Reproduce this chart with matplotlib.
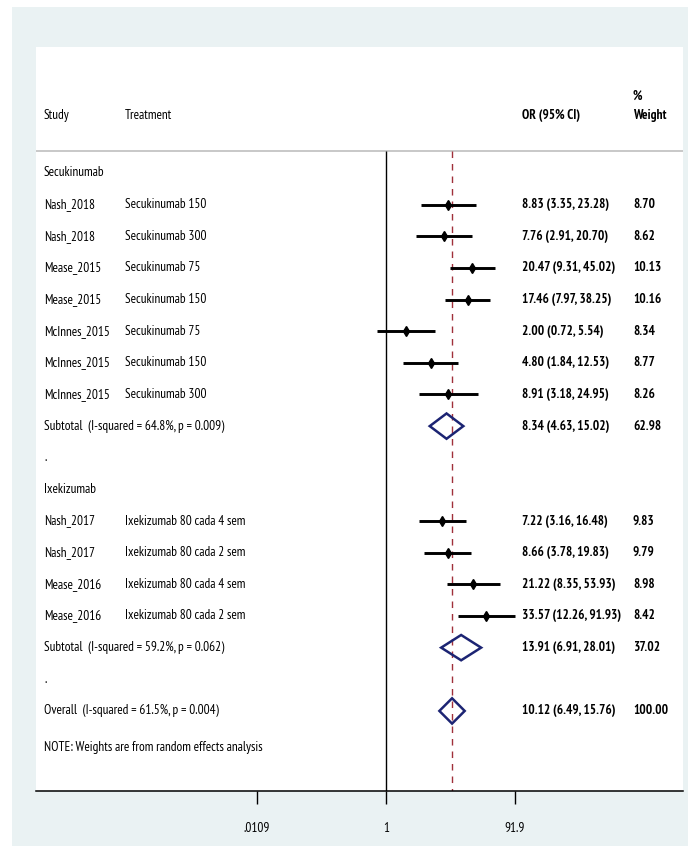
"""
Forest plot of odds ratios for secukinumab and ixekizumab trials,
random-effects subtotals and overall pooled estimate.
"""
import matplotlib.pyplot as plt
import numpy as np
from matplotlib.patches import Rectangle, Polygon
from matplotlib.ticker import FixedLocator, NullLocator

plt.rcParams['font.family'] = ['PT Sans Narrow', 'Liberation Sans', 'DejaVu Sans']

# Secukinumab trials
sec_study = ["Nash_2018", "Nash_2018", "Mease_2015", "Mease_2015",
             "McInnes_2015", "McInnes_2015", "McInnes_2015"]
sec_treat = ["Secukinumab 150", "Secukinumab 300", "Secukinumab 75", "Secukinumab 150",
             "Secukinumab 75", "Secukinumab 150", "Secukinumab 300"]
sec_or = [8.83, 7.76, 20.47, 17.46, 2.00, 4.80, 8.91]
sec_lo = [3.35, 2.91, 9.31, 7.97, 0.72, 1.84, 3.18]
sec_hi = [23.28, 20.70, 45.02, 38.25, 5.54, 12.53, 24.95]
sec_wt = [8.70, 8.62, 10.13, 10.16, 8.34, 8.77, 8.26]
sec_sub = [8.34, 4.63, 15.02, 62.98]
sec_sub_label = "Subtotal  (I-squared = 64.8%, p = 0.009)"

# Ixekizumab trials
ixe_study = ["Nash_2017", "Nash_2017", "Mease_2016", "Mease_2016"]
ixe_treat = ["Ixekizumab 80 cada 4 sem", "Ixekizumab 80 cada 2 sem",
             "Ixekizumab 80 cada 4 sem", "Ixekizumab 80 cada 2 sem"]
ixe_or = [7.22, 8.66, 21.22, 33.57]
ixe_lo = [3.16, 3.78, 8.35, 12.26]
ixe_hi = [16.48, 19.83, 53.93, 91.93]
ixe_wt = [9.83, 9.79, 8.98, 8.42]
ixe_sub = [13.91, 6.91, 28.01, 37.02]
ixe_sub_label = "Subtotal  (I-squared = 59.2%, p = 0.062)"

overall = [10.12, 6.49, 15.76, 100.00]
overall_label = "Overall  (I-squared = 61.5%, p = 0.004)"

tick_vals = [0.0109, 1, 91.9]
tick_labels = [".0109", "1", "91.9"]

W, H = 688, 846
fig = plt.figure(figsize=(W / 100, H / 100), dpi=100, facecolor='white')

# graph region background
fig.patches.append(Rectangle((12 / W, 0), 1 - 12 / W, 1 - 7 / H,
                             transform=fig.transFigure, facecolor='#EAF2F3',
                             edgecolor='none', zorder=-10))

ax = fig.add_axes([36 / W, 1 - 791 / H, (683 - 36) / W, (791 - 47) / H])
ax.set_zorder(1)
ax.set_facecolor('white')
ax.set_xscale('log')
ax.set_xlim(np.exp(-12.263), np.exp(10.406))
ax.set_ylim(19.53, -3.98)

fs = 9.5
for side in ['top', 'left', 'right']:
    ax.spines[side].set_visible(False)
ax.spines['bottom'].set_linewidth(1.1)
ax.yaxis.set_visible(False)
ax.xaxis.set_major_locator(FixedLocator(tick_vals))
ax.xaxis.set_minor_locator(NullLocator())
ax.set_xticklabels(tick_labels, fontsize=fs)
ax.tick_params(axis='x', direction='out', length=9, width=1.0, pad=13)

tr = ax.get_yaxis_transform()  # x in axes fraction, y in data
col_study, col_treat, col_or, col_wt = 0.0124, 0.1376, 0.751, 0.9227
line_y = -0.70
diamond_col = '#1C2473'

# headers
ax.text(col_wt, -2.43, "%", transform=tr, fontsize=fs, fontweight='bold', va='center')
ax.text(col_study, -1.83, "Study", transform=tr, fontsize=fs, va='center')
ax.text(col_treat, -1.83, "Treatment", transform=tr, fontsize=fs, va='center')
ax.text(col_or, -1.83, "OR (95% CI)", transform=tr, fontsize=fs, fontweight='bold', va='center')
ax.text(col_wt, -1.83, "Weight", transform=tr, fontsize=fs, fontweight='bold', va='center')
ax.axhline(line_y, color='#C4C4C4', lw=1.3)

# null line and overall estimate line
ax.vlines(1, line_y, 19.53, color='black', lw=1.0, zorder=2)
ax.vlines(overall[0], line_y, 19.53, color='#A0303A', lw=1.0,
          linestyles=(0, (4.7, 4.3)), zorder=2)


def draw_study(row, study, treat, est, lo, hi, wt):
    ax.plot([lo, hi], [row, row], color='black', lw=2.1, solid_capstyle='butt', zorder=3)
    ax.plot(est, row, marker='d', color='black', markersize=5, zorder=4)
    ax.text(col_study, row, study, transform=tr, fontsize=fs, va='center')
    ax.text(col_treat, row, treat, transform=tr, fontsize=fs, va='center')
    ax.text(col_or, row, f"{est:.2f} ({lo:.2f}, {hi:.2f})", transform=tr,
            fontsize=fs, fontweight='bold', va='center')
    ax.text(col_wt, row, f"{wt:.2f}", transform=tr, fontsize=fs,
            fontweight='bold', va='center')


def draw_pooled(row, label, vals):
    est, lo, hi, wt = vals
    ax.add_patch(Polygon([[lo, row], [est, row - 0.4], [hi, row], [est, row + 0.4]],
                         closed=True, fill=False, edgecolor=diamond_col, lw=1.8, zorder=4))
    ax.text(col_study, row, label, transform=tr, fontsize=fs, va='center')
    ax.text(col_or, row, f"{est:.2f} ({lo:.2f}, {hi:.2f})", transform=tr,
            fontsize=fs, fontweight='bold', va='center')
    ax.text(col_wt, row, f"{wt:.2f}", transform=tr, fontsize=fs,
            fontweight='bold', va='center')


row = 0
ax.text(col_study, row, "Secukinumab", transform=tr, fontsize=fs, va='center')
for i in range(len(sec_or)):
    row += 1
    draw_study(row, sec_study[i], sec_treat[i], sec_or[i], sec_lo[i], sec_hi[i], sec_wt[i])
row += 1
draw_pooled(row, sec_sub_label, sec_sub)
row += 1
ax.text(col_study, row, ".", transform=tr, fontsize=fs, va='center')

row += 1
ax.text(col_study, row, "Ixekizumab", transform=tr, fontsize=fs, va='center')
for i in range(len(ixe_or)):
    row += 1
    draw_study(row, ixe_study[i], ixe_treat[i], ixe_or[i], ixe_lo[i], ixe_hi[i], ixe_wt[i])
row += 1
draw_pooled(row, ixe_sub_label, ixe_sub)
row += 1
ax.text(col_study, row, ".", transform=tr, fontsize=fs, va='center')

row += 1
draw_pooled(row, overall_label, overall)

ax.text(col_study, 18.17, "NOTE: Weights are from random effects analysis",
        transform=tr, fontsize=fs, va='center')

fig.savefig("out.png", dpi=100, facecolor=fig.get_facecolor())
